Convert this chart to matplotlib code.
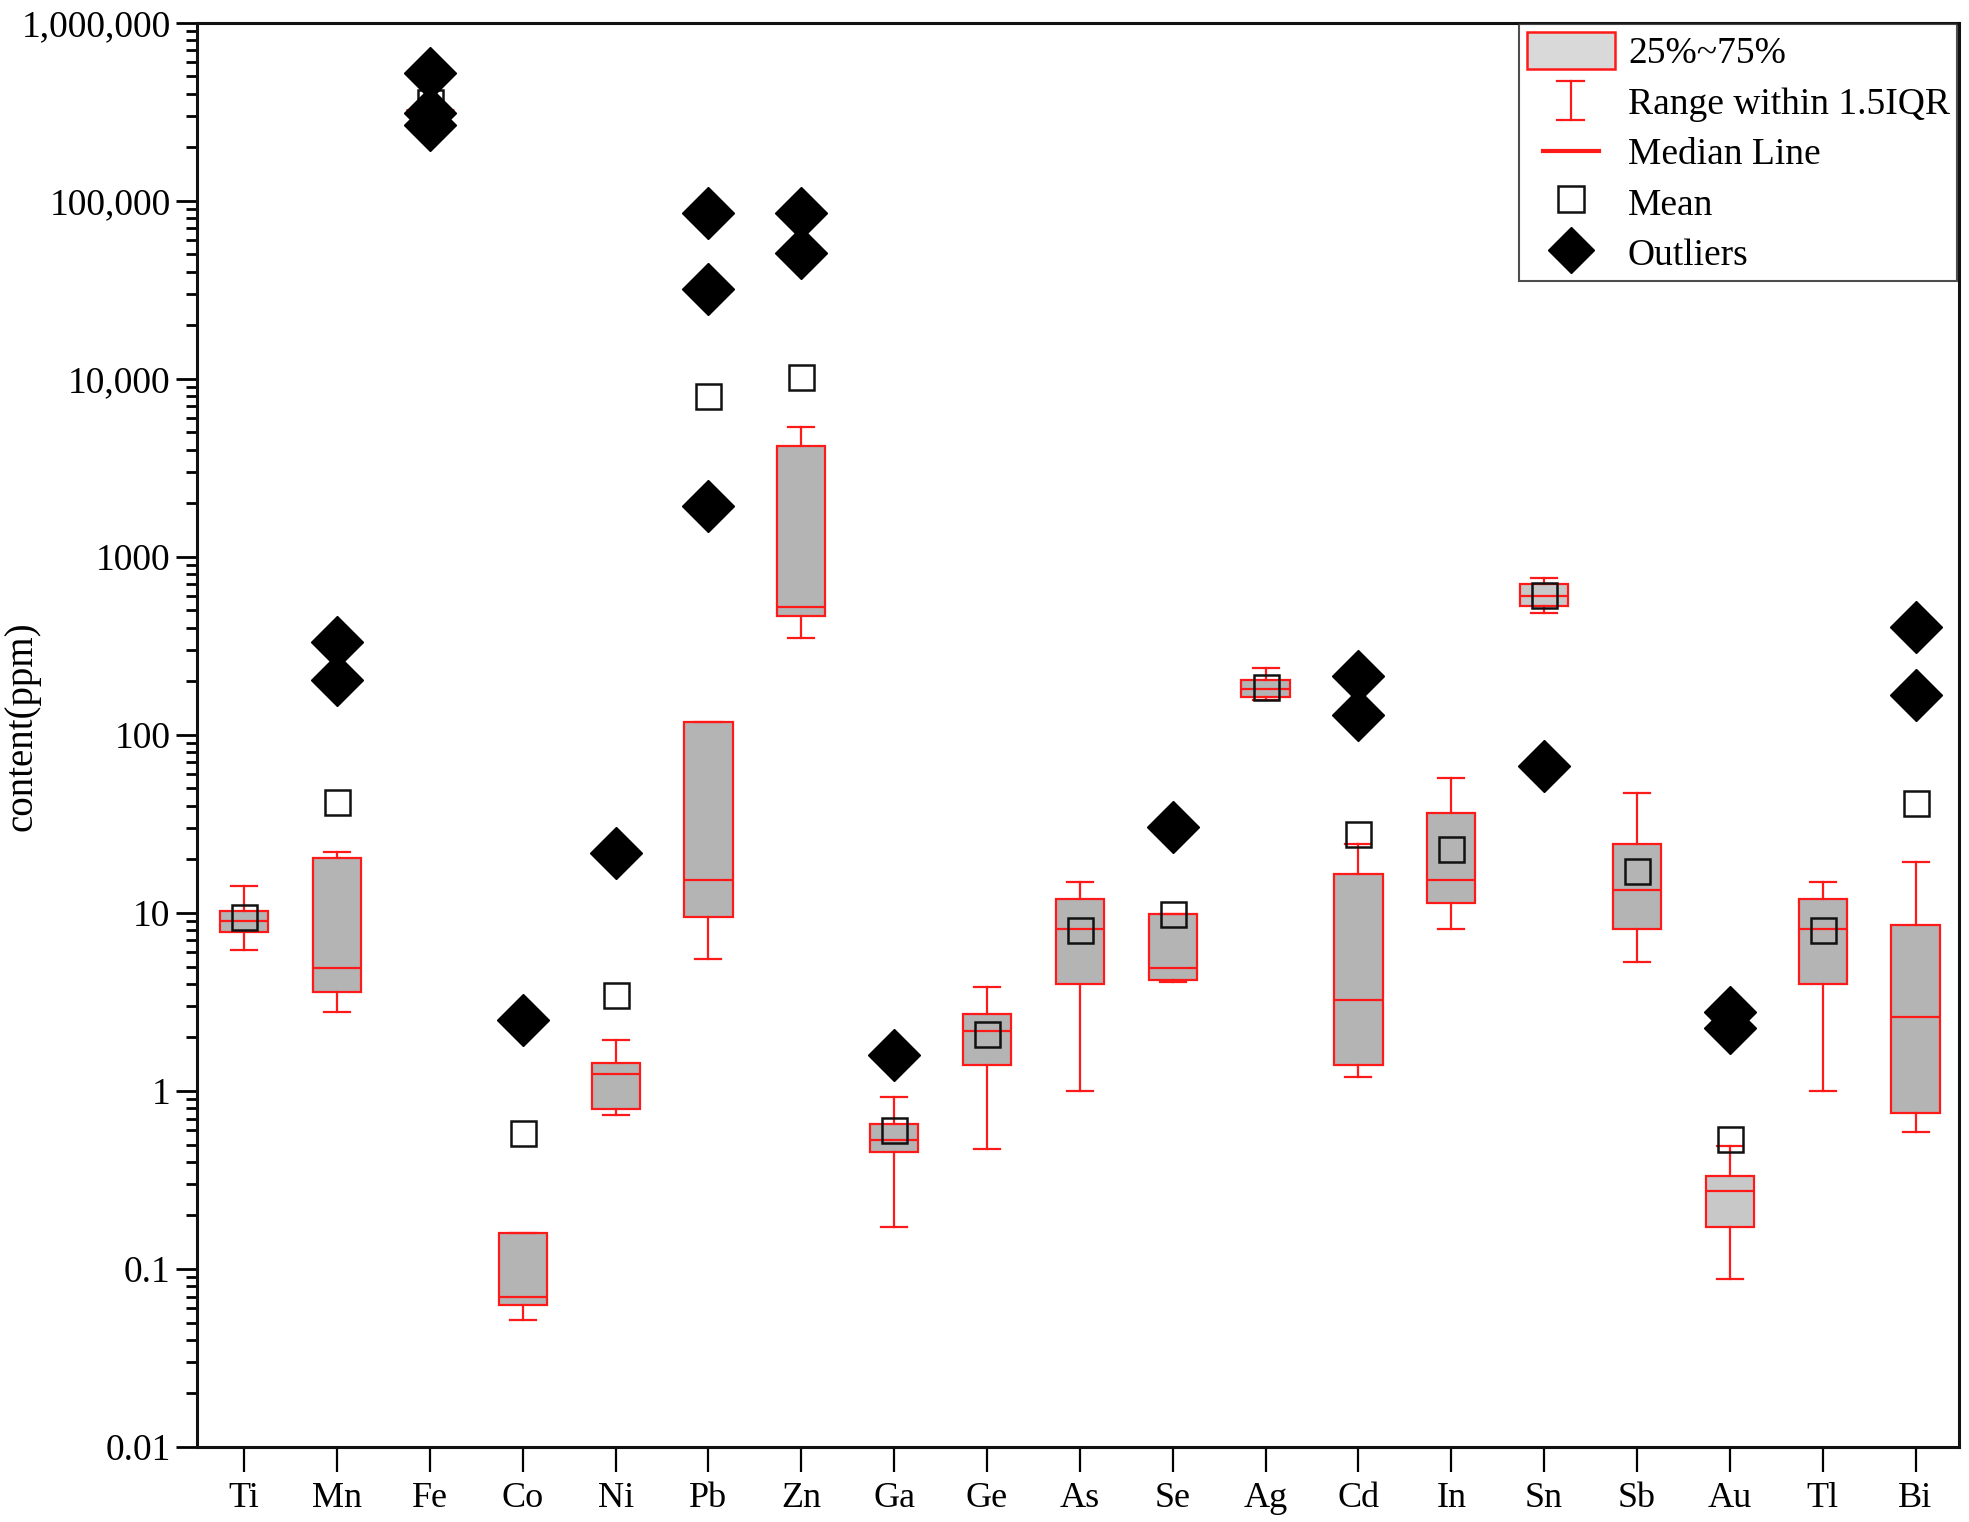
import matplotlib
matplotlib.use("Agg")
import matplotlib.pyplot as plt
from matplotlib.lines import Line2D
from matplotlib.patches import Patch
from matplotlib.legend_handler import HandlerBase
from matplotlib.ticker import LogLocator, NullFormatter

plt.rcParams['font.family'] = ['Liberation Serif', 'DejaVu Serif']

# ---------------- data (ppm) ----------------
elements = ['Ti', 'Mn', 'Fe', 'Co', 'Ni', 'Pb', 'Zn', 'Ga', 'Ge', 'As',
            'Se', 'Ag', 'Cd', 'In', 'Sn', 'Sb', 'Au', 'Tl', 'Bi']
whisker_low = [6.2, 2.76, 3.2e5, 0.052, 0.73, 5.5, 349, 0.172, 0.47, 1.0,
               4.1, 158, 1.19, 8.1, 484, 5.3, 0.088, 1.0, 0.59]
q1 = [7.8, 3.6, 3.2e5, 0.063, 0.79, 9.5, 468, 0.455, 1.40, 4.0,
      4.2, 163, 1.40, 11.3, 533, 8.1, 0.172, 4.0, 0.75]
median = [9.0, 4.9, 3.2e5, 0.070, 1.24, 15.4, 525, 0.53, 2.16, 8.1,
          4.9, 182, 3.25, 15.4, 600, 13.5, 0.275, 8.1, 2.6]
q3 = [10.3, 20.4, 3.2e5, 0.16, 1.44, 118, 4200, 0.65, 2.72, 11.9,
      9.8, 204, 16.5, 36.5, 703, 24.3, 0.334, 11.9, 8.5]
whisker_high = [14.2, 22, 3.2e5, 0.16, 1.93, 118, 5350, 0.93, 3.82, 15,
                9.8, 237, 24.3, 57.5, 762, 47.4, 0.49, 15, 19.4]
means = [9.5, 42, 3.6e5, 0.58, 3.47, 8000, 10200, 0.60, 2.1, 8.0,
         9.8, 185, 27.7, 22.8, 607, 17.3, 0.54, 8.0, 41.6]
outliers = [[], [333, 204], [5.2e5, 3.1e5, 2.66e5], [2.5], [21.7],
            [8.5e4, 3.2e4, 1920], [8.5e4, 5.1e4], [1.59], [], [],
            [30.5], [], [215, 130], [], [66.7], [], [2.76, 2.27], [], [405, 168]]
light_fill_elements = ['Sn', 'Au']

ytick_values = [0.01, 0.1, 1, 10, 100, 1000, 1e4, 1e5, 1e6]
ytick_labels = ['0.01', '0.1', '1', '10', '100', '1000', '10,000', '100,000', '1,000,000']
legend_labels = ['25%~75%', 'Range within 1.5IQR', 'Median Line', 'Mean', 'Outliers']

# ---------------- figure ----------------
fig = plt.figure(figsize=(19.69, 15.22), dpi=100)
ax = fig.add_axes([0.100, 0.0493, 0.895, 0.9357])

stats = []
for i, name in enumerate(elements):
    stats.append(dict(label=name, whislo=whisker_low[i], q1=q1[i], med=median[i],
                      q3=q3[i], whishi=whisker_high[i], mean=means[i],
                      fliers=outliers[i]))

positions = list(range(1, len(elements) + 1))
red = '#ff1a1a'
bp = ax.bxp(stats, positions=positions, widths=0.52, patch_artist=True,
            showmeans=True, showfliers=True,
            boxprops=dict(facecolor='#b4b4b4', edgecolor=red, linewidth=1.6),
            whiskerprops=dict(color=red, linewidth=1.6),
            capprops=dict(color=red, linewidth=1.6),
            medianprops=dict(color=red, linewidth=1.6),
            meanprops=dict(marker='s', markerfacecolor='none', markeredgecolor='#111111',
                           markeredgewidth=1.8, markersize=18),
            flierprops=dict(marker='D', markerfacecolor='black', markeredgecolor='black',
                            markersize=26, linestyle='none'),
            capwidths=0.28)

for name, box in zip(elements, bp['boxes']):
    if name in light_fill_elements:
        box.set_facecolor('#c8c8c8')
for name, med in zip(elements, bp['medians']):
    if name == 'Fe':
        med.set_linewidth(3.5)
for m in bp['means']:
    m.set_zorder(4)
for f in bp['fliers']:
    f.set_zorder(5)

ax.set_yscale('log')
ax.set_ylim(0.01, 1e6)
ax.set_xlim(0.49, 19.47)
ax.set_yticks(ytick_values)
ax.set_yticklabels(ytick_labels)
ax.yaxis.set_minor_locator(LogLocator(base=10, subs=range(2, 10), numticks=20))
ax.yaxis.set_minor_formatter(NullFormatter())
ax.set_xticks(positions)
ax.set_xticklabels(elements)

ax.tick_params(axis='y', which='major', direction='out', length=15, width=2,
               labelsize=27, pad=4, right=False)
ax.tick_params(axis='y', which='minor', direction='out', length=8, width=2, right=False)
ax.tick_params(axis='x', which='major', direction='out', length=18, width=1.6,
               labelsize=26, pad=7, top=False)
for s in ax.spines.values():
    s.set_linewidth(2.2)
    s.set_color('#111111')

ax.set_ylabel('content(ppm)', fontsize=28)
ax.yaxis.set_label_coords(-0.089, 0.506)


# ---------------- legend ----------------
class IBeamHandler(HandlerBase):
    def create_artists(self, legend, orig_handle, xdescent, ydescent,
                       width, height, fontsize, trans):
        cx = width / 2 - xdescent
        h = height * 1.05
        y0 = -ydescent + height / 2 - h / 2
        y1 = y0 + h
        cap = width * 0.3
        segs = [([cx, cx], [y0, y1]),
                ([cx - cap / 2, cx + cap / 2], [y0, y0]),
                ([cx - cap / 2, cx + cap / 2], [y1, y1])]
        arts = []
        for xs, ys in segs:
            ln = Line2D(xs, ys, color=red, linewidth=1.6)
            ln.set_transform(trans)
            arts.append(ln)
        return arts


class MedianHandler(HandlerBase):
    def create_artists(self, legend, orig_handle, xdescent, ydescent,
                       width, height, fontsize, trans):
        cy = -ydescent + height / 2
        ln = Line2D([-xdescent + width * 0.18, -xdescent + width * 0.82], [cy, cy],
                    color=red, linewidth=3)
        ln.set_transform(trans)
        return [ln]


box_handle = Patch(facecolor='#d9d9d9', edgecolor=red, linewidth=1.8)
ibeam_handle = Line2D([], [])
median_handle = Line2D([], [], color='red')
mean_handle = Line2D([], [], marker='s', linestyle='none', markerfacecolor='none',
                     markeredgecolor='#111111', markeredgewidth=1.8, markersize=19)
outlier_handle = Line2D([], [], marker='D', linestyle='none', markerfacecolor='black',
                        markeredgecolor='black', markersize=23)

leg = ax.legend([box_handle, ibeam_handle, median_handle, mean_handle, outlier_handle],
                legend_labels,
                handler_map={ibeam_handle: IBeamHandler(), median_handle: MedianHandler()},
                loc='upper right', bbox_to_anchor=(0.999, 0.999), borderaxespad=0.0,
                fontsize=27, frameon=True, fancybox=False, edgecolor='#222222',
                handlelength=2.35, handleheight=1.15, handletextpad=0.35,
                labelspacing=0.3, borderpad=0.2)
leg.get_frame().set_linewidth(1.5)

fig.savefig('out.png', dpi=100)
